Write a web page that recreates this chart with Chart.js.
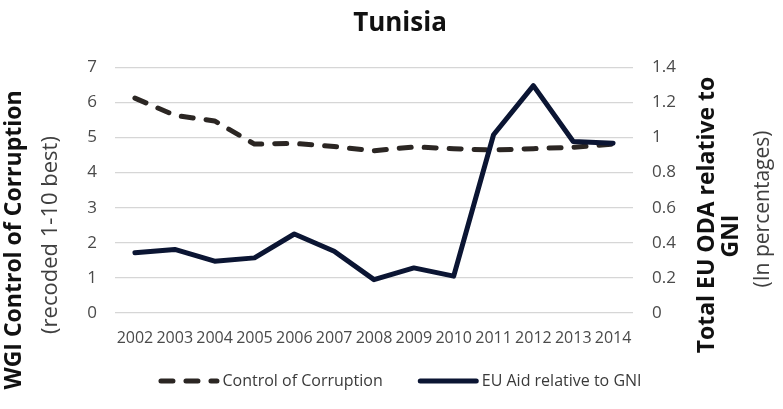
<!DOCTYPE html>
<html>
<head>
<meta charset="utf-8">
<script src="https://cdn.jsdelivr.net/npm/chart.js@4.4.1/dist/chart.umd.min.js"></script>
<style>
  html, body { margin: 0; padding: 0; background: #ffffff; }
  #wrap { width: 783px; height: 409px; }
</style>
</head>
<body>
<div id="wrap"><canvas id="chart" width="783" height="409"></canvas></div>
<script>
// Years on the category axis
const years = ['2002', '2003', '2004', '2005', '2006', '2007', '2008',
               '2009', '2010', '2011', '2012', '2013', '2014'];

// WGI Control of Corruption, recoded 1-10 (left axis)
const controlOfCorruption = [6.12, 5.63, 5.47, 4.81, 4.83, 4.74, 4.62,
                             4.73, 4.68, 4.64, 4.68, 4.72, 4.81];

// Total EU ODA relative to GNI, in percent (right axis)
const euAidRelativeToGNI = [0.343, 0.362, 0.295, 0.314, 0.450, 0.352, 0.190,
                            0.257, 0.210, 1.015, 1.295, 0.977, 0.967];

// Tick labels of both value axes
const leftTickLabels = ['0', '1', '2', '3', '4', '5', '6', '7'];
const rightTickLabels = ['0', '0.2', '0.4', '0.6', '0.8', '1', '1.2', '1.4'];

// Series names
const seriesNames = ['Control of Corruption', 'EU Aid relative to GNI'];

const FONT = "'Open Sans', 'Noto Sans', 'DejaVu Sans', sans-serif";

// Rotated side titles for the two value axes
const sideTitles = {
  id: 'sideTitles',
  afterDraw(chart, args, opts) {
    const ctx = chart.ctx;
    const area = chart.chartArea;
    opts.items.forEach(t => {
      const x = t.side === 'left' ? t.offset : area.right + t.offset;
      ctx.save();
      ctx.translate(x, t.y);
      ctx.rotate(-Math.PI / 2);
      ctx.font = t.font;
      ctx.fillStyle = t.color;
      ctx.textAlign = 'center';
      ctx.textBaseline = 'middle';
      ctx.fillText(t.text, 0, 0);
      ctx.restore();
    });
  }
};

// Legend row under the x axis: a line sample styled like each dataset, then its name
const lineLegend = {
  id: 'lineLegend',
  afterDraw(chart, args, opts) {
    const ctx = chart.ctx;
    const y = chart.chartArea.bottom + opts.offsetY;
    ctx.save();
    ctx.font = opts.font;
    const items = chart.data.datasets.map(ds => ({
      ds, textW: ctx.measureText(ds.label).width
    }));
    const itemW = it => opts.sampleW + opts.textGap + it.textW;
    const total = items.reduce((s, it) => s + itemW(it), 0) + opts.itemGap * (items.length - 1);
    let x = opts.centerX - total / 2;
    items.forEach(it => {
      const ds = it.ds;
      const cap = ds.borderWidth / 2;
      ctx.beginPath();
      ctx.setLineDash(ds.borderDash || []);
      ctx.lineDashOffset = 0;
      ctx.lineCap = ds.borderCapStyle || 'butt';
      ctx.lineWidth = ds.borderWidth;
      ctx.strokeStyle = ds.borderColor;
      ctx.moveTo(x + cap, y);
      ctx.lineTo(x + opts.sampleW - cap, y);
      ctx.stroke();
      ctx.setLineDash([]);
      ctx.fillStyle = opts.color;
      ctx.textAlign = 'left';
      ctx.textBaseline = 'middle';
      ctx.fillText(ds.label, x + opts.sampleW + opts.textGap, y);
      x += itemW(it) + opts.itemGap;
    });
    ctx.restore();
  }
};

function build() {
  new Chart(document.getElementById('chart'), {
    type: 'line',
    data: {
      labels: years,
      datasets: [
        {
          label: seriesNames[0],
          data: controlOfCorruption,
          yAxisID: 'y',
          borderColor: '#2b2623',
          backgroundColor: '#2b2623',
          borderWidth: 5,
          borderDash: [12, 13],
          borderCapStyle: 'round',
          borderJoinStyle: 'round',
          pointRadius: 0,
          tension: 0,
          order: 1
        },
        {
          label: seriesNames[1],
          data: euAidRelativeToGNI,
          yAxisID: 'y1',
          borderColor: '#0b1533',
          backgroundColor: '#0b1533',
          borderWidth: 5,
          borderCapStyle: 'round',
          borderJoinStyle: 'round',
          pointRadius: 0,
          tension: 0,
          order: 0
        }
      ]
    },
    options: {
      responsive: false,
      animation: false,
      layout: { padding: { left: 17, right: 0, top: 6, bottom: 45 } },
      plugins: {
        tooltip: { enabled: false },
        legend: { display: false },
        title: {
          display: true,
          text: 'Tunisia',
          color: '#111111',
          font: { family: FONT, size: 26, weight: 'bold' },
          padding: { top: 2, bottom: 28 }
        },
        lineLegend: {
          offsetY: 68,
          centerX: 400,
          sampleW: 61,
          textGap: 3,
          itemGap: 35,
          font: '16px ' + FONT,
          color: '#3a3a3a'
        },
        sideTitles: {
          items: [
            { side: 'left', offset: 14, y: 240, text: 'WGI Control of Corruption',
              font: 'bold 23px ' + FONT, color: '#111111' },
            { side: 'left', offset: 51, y: 235, text: '(recoded 1-10 best)',
              font: '22px ' + FONT, color: '#3f3f3f' },
            { side: 'right', offset: 74, y: 215, text: 'Total EU ODA relative to',
              font: 'bold 23px ' + FONT, color: '#111111' },
            { side: 'right', offset: 98, y: 236, text: 'GNI',
              font: 'bold 23px ' + FONT, color: '#111111' },
            { side: 'right', offset: 130, y: 209, text: '(In percentages)',
              font: '21px ' + FONT, color: '#3f3f3f' }
          ]
        }
      },
      scales: {
        x: {
          offset: true,
          grid: { display: false, drawTicks: false },
          border: { display: false },
          ticks: {
            color: '#4a4a4a',
            font: { family: FONT, size: 16, lineHeight: 1 },
            padding: 17.5,
            maxRotation: 0,
            minRotation: 0,
            autoSkip: false
          }
        },
        y: {
          position: 'left',
          min: 0,
          max: 7,
          grid: { color: '#d6d6d6', lineWidth: 1.3, drawTicks: false },
          border: { display: false },
          ticks: {
            stepSize: 1,
            color: '#4a4a4a',
            font: { family: FONT, size: 17 },
            padding: 18,
            callback: (v, i) => leftTickLabels[i]
          },
          afterFit: s => { s.width = 98; }
        },
        y1: {
          position: 'right',
          min: 0,
          max: 1.4,
          grid: { display: false, drawTicks: false },
          border: { display: false },
          ticks: {
            stepSize: 0.2,
            color: '#4a4a4a',
            font: { family: FONT, size: 17 },
            padding: 19,
            callback: (v, i) => rightTickLabels[i]
          },
          afterFit: s => { s.width = 150; }
        }
      }
    },
    plugins: [sideTitles, lineLegend]
  });
}

if (document.fonts && document.fonts.load) {
  Promise.all([
    document.fonts.load("16px 'Open Sans'"),
    document.fonts.load("bold 16px 'Open Sans'")
  ]).then(build, build);
} else {
  build();
}
</script>
</body>
</html>
